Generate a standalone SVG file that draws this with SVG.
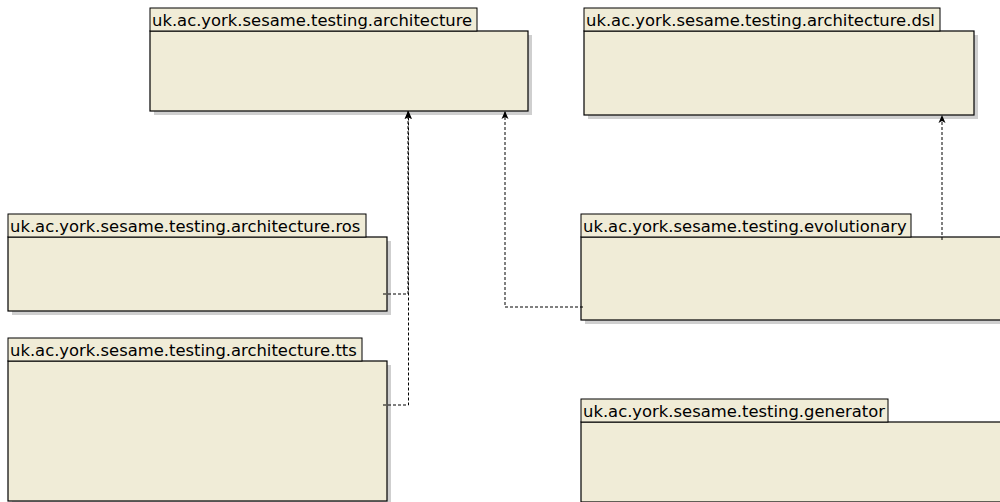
<svg xmlns="http://www.w3.org/2000/svg" width="1000" height="502" viewBox="0 0 1000 502">
  <style>
    .tab { fill: #f0ecd7; stroke: #000; stroke-width: 1; }
    .body { fill: #f0ecd7; stroke: #000; stroke-width: 1.2; }
    .shadow { fill: #cfcfcf; }
    .label { font-family: "DejaVu Sans", sans-serif; font-size: 16.4px; fill: #000; }
    .dep { fill: none; stroke: #000; stroke-width: 1; stroke-dasharray: 3 2; }
  </style>
  <defs>
    <marker id="arrow" viewBox="0 0 8 8" refX="8" refY="4" markerWidth="8" markerHeight="8" markerUnits="userSpaceOnUse" orient="auto">
      <path d="M0,0.5 L8,4 L0,7.5 L2,4 Z" fill="#000"/>
    </marker>
  </defs>
  <rect width="1000" height="502" fill="#fff"/>

  <g id="pkg-architecture">
    <rect class="shadow" x="154" y="35" width="378" height="80"/>
    <rect class="body" x="150" y="31" width="378" height="80"/>
    <rect class="tab" x="150" y="8" width="327" height="23"/>
    <text class="label" x="152" y="26">uk.ac.york.sesame.testing.architecture</text>
  </g>

  <g id="pkg-architecture-dsl">
    <rect class="shadow" x="588" y="35" width="390" height="84"/>
    <rect class="body" x="584" y="31" width="390" height="84"/>
    <rect class="tab" x="584" y="8" width="356" height="23"/>
    <text class="label" x="586" y="26">uk.ac.york.sesame.testing.architecture.dsl</text>
  </g>

  <g id="pkg-architecture-ros">
    <rect class="shadow" x="12" y="241" width="379" height="74"/>
    <rect class="body" x="8" y="237" width="379" height="74"/>
    <rect class="tab" x="8" y="214" width="358" height="23"/>
    <text class="label" x="10" y="232">uk.ac.york.sesame.testing.architecture.ros</text>
  </g>

  <g id="pkg-evolutionary">
    <rect class="shadow" x="585" y="241" width="420" height="83"/>
    <rect class="body" x="581" y="237" width="420" height="83"/>
    <rect class="tab" x="581" y="214" width="330" height="23"/>
    <text class="label" x="583" y="232">uk.ac.york.sesame.testing.evolutionary</text>
  </g>

  <g id="pkg-architecture-tts">
    <rect class="shadow" x="12" y="365" width="379" height="140"/>
    <rect class="body" x="8" y="361" width="379" height="140"/>
    <rect class="tab" x="8" y="338" width="354" height="23"/>
    <text class="label" x="10" y="356">uk.ac.york.sesame.testing.architecture.tts</text>
  </g>

  <g id="pkg-generator">
    <rect class="shadow" x="585" y="426" width="420" height="80"/>
    <rect class="body" x="581" y="422" width="420" height="80"/>
    <rect class="tab" x="581" y="399" width="307" height="23"/>
    <text class="label" x="583" y="417">uk.ac.york.sesame.testing.generator</text>
  </g>

  <g id="connectors">
    <path class="dep" d="M383,294 H408 V111" marker-end="url(#arrow)"/>
    <path class="dep" d="M383,405 H408.5 V111" marker-end="url(#arrow)"/>
    <path class="dep" d="M583,307 H505 V111" marker-end="url(#arrow)"/>
    <path class="dep" d="M942,240 V115" marker-end="url(#arrow)"/>
  </g>
</svg>
